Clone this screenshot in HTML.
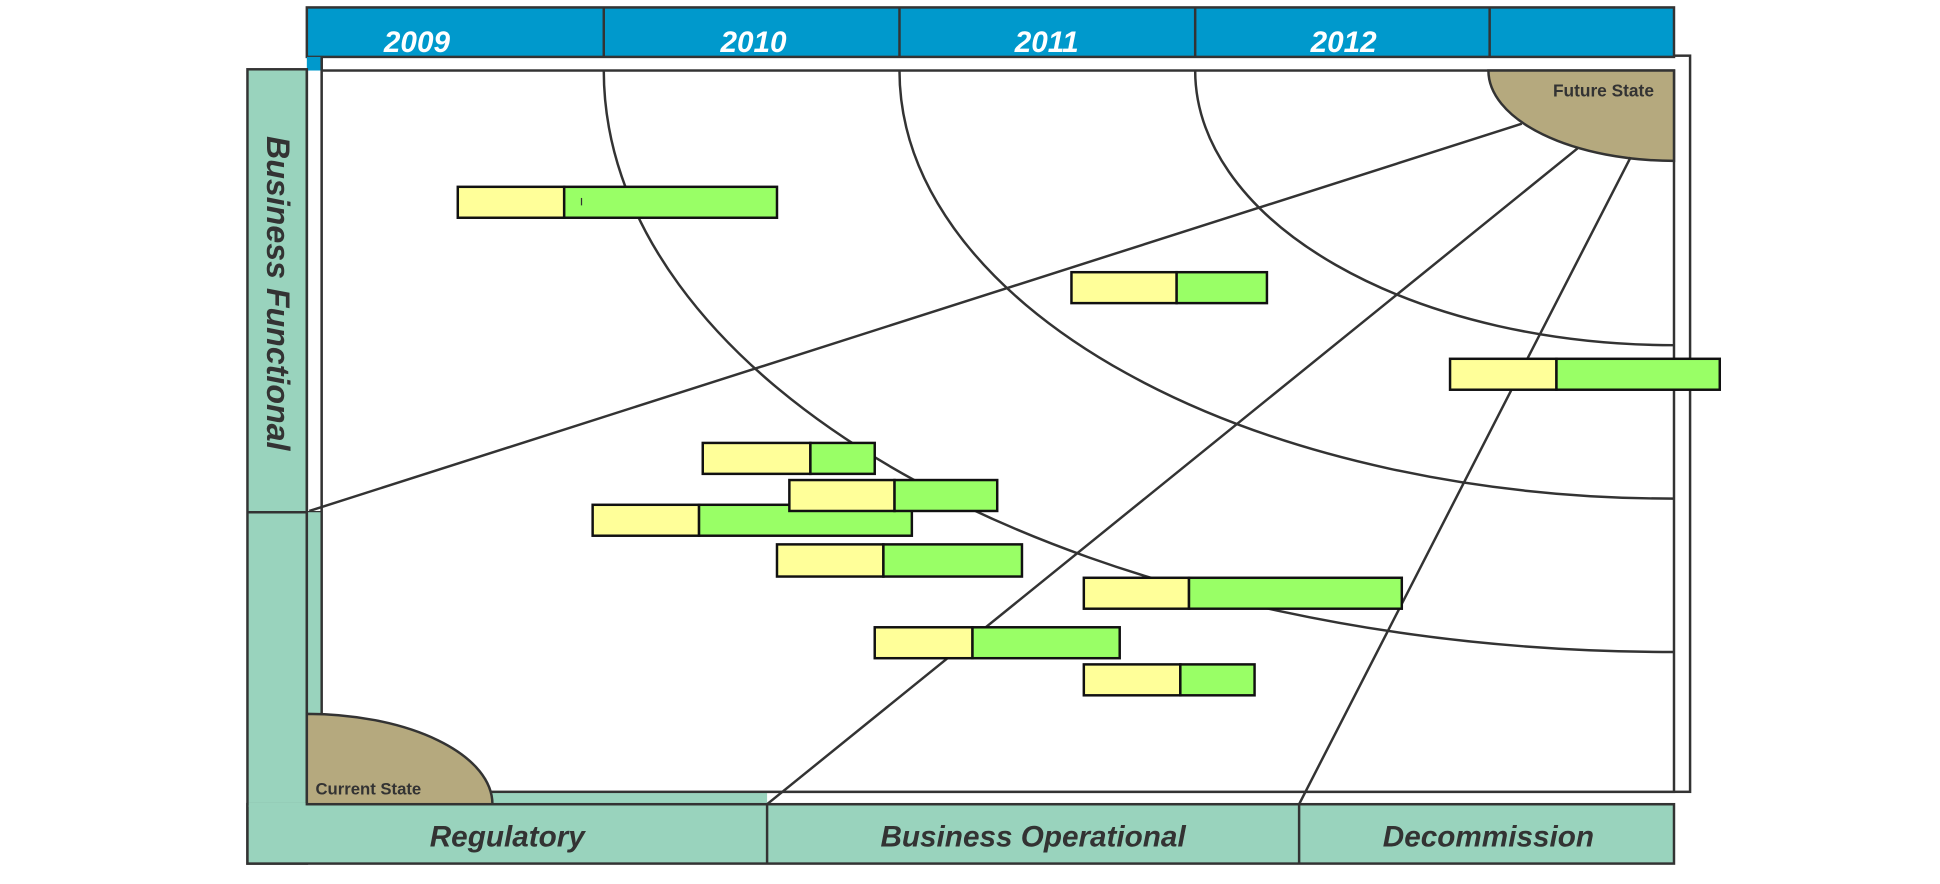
<!DOCTYPE html>
<html><head><meta charset="utf-8"><style>
html,body{margin:0;padding:0;background:#fff;}
svg{display:block;}
text{font-family:"Liberation Sans",sans-serif;font-weight:bold;}
</style></head><body>
<svg width="1940" height="884" viewBox="0 0 1568 714.5" preserveAspectRatio="none">
<rect x="260" y="45" width="1106" height="595" fill="#fff" stroke="#333" stroke-width="2"/>
<rect x="248" y="6" width="1105" height="40" fill="#0099cc" stroke="#333" stroke-width="2"/>
<g stroke="#333" stroke-width="2"><line x1="488" y1="6" x2="488" y2="46"/><line x1="727" y1="6" x2="727" y2="46"/><line x1="966" y1="6" x2="966" y2="46"/><line x1="1204" y1="6" x2="1204" y2="46"/></g>
<g fill="#fff" font-size="24" font-style="italic" text-anchor="middle">
<text x="337" y="42">2009</text><text x="609" y="42">2010</text><text x="846" y="42">2011</text><text x="1086" y="42">2012</text></g>
<rect x="248" y="46" width="12" height="11" fill="#0099cc"/>
<line x1="260" y1="46" x2="260" y2="57" stroke="#333" stroke-width="2"/>
<rect x="200" y="56" width="48" height="642" fill="#99d3bd" stroke="#333" stroke-width="2"/>
<line x1="200" y1="414" x2="260" y2="414" stroke="#333" stroke-width="2"/>
<rect x="248" y="414" width="12" height="236" fill="#99d3bd"/>
<rect x="248" y="640" width="372" height="10" fill="#99d3bd"/>
<rect x="260" y="57" width="1093" height="583" fill="#fff" stroke="#333" stroke-width="2"/>
<line x1="248" y1="57" x2="248" y2="650" stroke="#333" stroke-width="2"/>
<g fill="none" stroke="#333" stroke-width="2">
<path d="M488 57 A865 470 0 0 0 1353 527"/>
<path d="M727 57 A626 346 0 0 0 1353 403"/>
<path d="M966 57 A387 222 0 0 0 1353 279"/>
</g>
<path d="M1203 57 A150 73 0 0 0 1353 130 L1353 57 Z" fill="#b5a97e" stroke="#333" stroke-width="2"/>
<text x="1296" y="78" font-size="14" fill="#333" text-anchor="middle">Future State</text>
<path d="M248 577 A150 73 0 0 1 398 650 L248 650 Z" fill="#b5a97e" stroke="#333" stroke-width="2"/>
<text x="255" y="642" font-size="13.5" fill="#333">Current State</text>
<g stroke="#333" stroke-width="2">
<line x1="1230" y1="100" x2="250" y2="413"/>
<line x1="1275" y1="120" x2="620" y2="650"/>
<line x1="1318" y1="127" x2="1050" y2="650"/>
</g>
<g stroke="#111" stroke-width="2">
<rect x="370" y="151" width="86" height="25" fill="#ffff99"/><rect x="456" y="151" width="172" height="25" fill="#99ff66"/>
<rect x="866" y="220" width="85" height="25" fill="#ffff99"/><rect x="951" y="220" width="73" height="25" fill="#99ff66"/>
<rect x="1172" y="290" width="86" height="25" fill="#ffff99"/><rect x="1258" y="290" width="132" height="25" fill="#99ff66"/>
<rect x="568" y="358" width="87" height="25" fill="#ffff99"/><rect x="655" y="358" width="52" height="25" fill="#99ff66"/>
<rect x="479" y="408" width="86" height="25" fill="#ffff99"/><rect x="565" y="408" width="172" height="25" fill="#99ff66"/>
<rect x="638" y="388" width="85" height="25" fill="#ffff99"/><rect x="723" y="388" width="83" height="25" fill="#99ff66"/>
<rect x="628" y="440" width="86" height="26" fill="#ffff99"/><rect x="714" y="440" width="112" height="26" fill="#99ff66"/>
<rect x="876" y="467" width="85" height="25" fill="#ffff99"/><rect x="961" y="467" width="172" height="25" fill="#99ff66"/>
<rect x="707" y="507" width="79" height="25" fill="#ffff99"/><rect x="786" y="507" width="119" height="25" fill="#99ff66"/>
<rect x="876" y="537" width="78" height="25" fill="#ffff99"/><rect x="954" y="537" width="60" height="25" fill="#99ff66"/>
</g>
<line x1="470" y1="160" x2="470" y2="166" stroke="#333" stroke-width="1"/>
<rect x="200" y="650" width="1153" height="48" fill="#99d3bd" stroke="#333" stroke-width="2"/>
<rect x="201" y="649" width="46" height="3" fill="#99d3bd"/>
<g stroke="#333" stroke-width="2"><line x1="248" y1="650" x2="1353" y2="650"/><line x1="620" y1="650" x2="620" y2="698"/><line x1="1050" y1="650" x2="1050" y2="698"/></g>
<g fill="#333" font-size="24" font-style="italic" text-anchor="middle">
<text x="410" y="684">Regulatory</text><text x="835" y="684">Business Operational</text><text x="1203" y="684">Decommission</text>
<text transform="translate(216,237) rotate(90)" font-size="26">Business Functional</text>
</g>
</svg>
</body></html>
